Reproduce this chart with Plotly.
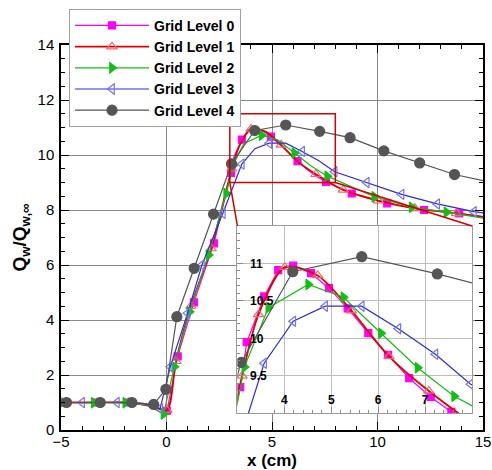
import math
import plotly.graph_objects as go

# ---- data: wall heat flux ratio along the surface for five grid levels ----
x_lvl0 = [-4.95, -3.29, -1.8, -0.69, 0.02, 0.53, 1.3, 2.25, 3.06, 3.2, 3.57, 3.87, 4.19, 4.57,
          4.95, 5.35, 5.79, 6.21, 6.66, 7.12, 7.56, 8.78, 10.46, 12.21, 13.87, 15.5]
y_lvl0 = [1.0, 1.0, 1.0, 0.85, 0.7, 2.68, 4.64, 6.79, 9.35, 9.95, 10.56, 10.91, 10.97, 10.87,
          10.67, 10.4, 10.07, 9.78, 9.47, 9.22, 9.02, 8.6, 8.24, 8.0, 7.88, 7.71]

x_lvl1 = [-4.95, -3.29, -1.8, -0.69, 0.02, 0.45, 1.15, 2.12, 3.1, 3.45, 4.01, 4.71, 5.43,
          6.23, 7.08, 8.38, 10.04, 11.77, 13.74, 15.5]
y_lvl1 = [1.0, 1.0, 1.0, 0.87, 0.72, 2.5, 4.5, 6.6, 9.5, 10.32, 10.95, 10.84, 10.37,
          9.76, 9.3, 8.73, 8.34, 8.06, 7.88, 7.7]

x_lvl2 = [-4.95, -3.45, -1.95, -0.93, -0.14, 0.37, 1.09, 1.99, 2.83, 3.15, 3.66, 4.51, 5.26,
          6.06, 6.84, 7.62, 8.3, 9.85, 11.62, 13.27, 15.5]
y_lvl2 = [1.0, 0.99, 0.99, 0.91, 0.58, 2.3, 4.3, 6.36, 8.6, 9.62, 10.41, 10.72, 10.55,
          10.07, 9.61, 9.23, 9.0, 8.48, 8.1, 7.92, 7.64]

x_lvl3 = [-4.0, -2.35, -1.09, -0.3, 0.18, 1.0, 1.68, 2.67, 3.57, 4.19, 4.87, 5.65, 6.43,
          7.22, 7.97, 9.49, 11.14, 12.83, 14.57, 15.5]
y_lvl3 = [1.0, 1.0, 0.97, 0.78, 2.3, 4.25, 6.0, 7.88, 9.67, 10.23, 10.43, 10.43, 10.13,
          9.79, 9.39, 9.0, 8.57, 8.22, 7.94, 7.84]

x_lvl4 = [-4.74, -3.14, -1.64, -0.61, -0.03, 0.49, 1.31, 2.23, 3.08, 4.18, 5.65, 7.26, 8.70,
          10.3, 12.0, 13.65, 15.3]
y_lvl4 = [1.0, 1.0, 1.0, 0.93, 1.48, 4.12, 5.88, 7.85, 9.68, 10.89, 11.09, 10.86, 10.63,
          10.15, 9.71, 9.29, 9.02]

names = ["Grid Level 0", "Grid Level 1", "Grid Level 2", "Grid Level 3", "Grid Level 4"]
xs_all = [x_lvl0, x_lvl1, x_lvl2, x_lvl3, x_lvl4]
ys_all = [y_lvl0, y_lvl1, y_lvl2, y_lvl3, y_lvl4]

# axis ranges of the main view and of the zoomed inset
main_xrange = [-5, 15]
main_yrange = [0, 14]
zoom_xrange = [3, 8]
zoom_yrange = [9, 11.5]
zoom_xticks = [4, 5, 6, 7]
zoom_yticks = [9.5, 10, 10.5, 11]

# ---- styling ----
FONT = "Liberation Sans, Arial, sans-serif"
W, H = 492, 470
M = dict(l=61, r=9, t=45, b=40)
PLOT_W = W - M["l"] - M["r"]
PLOT_H = H - M["t"] - M["b"]
INSET_X = [0.418, 0.974]
INSET_Y = [0.043, 0.530]

styles = [
    dict(line="#FF00FF", width=1.2, symbol="square", size=7, mcolor="#FF00FF", mline="#FF00FF", shape="linear", gap=28),
    dict(line="#E00000", width=1.8, symbol="triangle-up-open", size=9, mcolor="#F06A6A", mline="#F06A6A", shape="spline", gap=28),
    dict(line="#10C010", width=1.2, symbol="triangle-right", size=9, mcolor="#10C010", mline="#10C010", shape="linear", gap=28),
    dict(line="#2B2BE6", width=1.2, symbol="triangle-left-open", size=9, mcolor="#7474F2", mline="#7474F2", shape="linear", gap=28),
    dict(line="#555555", width=1.2, symbol="circle", size=10, mcolor="#555555", mline="#555555", shape="linear", gap=0),
]

px_x = PLOT_W / (main_xrange[1] - main_xrange[0])
px_y = PLOT_H / (main_yrange[1] - main_yrange[0])


def symbol_indices(xs, ys, gap):
    """Keep a symbol only once it is `gap` pixels away from the last one drawn."""
    keep = [0]
    lx, ly = xs[0], ys[0]
    for i in range(1, len(xs)):
        d = math.hypot((xs[i] - lx) * px_x, (ys[i] - ly) * px_y)
        if d >= gap:
            keep.append(i)
            lx, ly = xs[i], ys[i]
    return keep


fig = go.Figure()

# main view
for name, xs, ys, st in zip(names, xs_all, ys_all, styles):
    fig.add_trace(go.Scatter(
        x=xs, y=ys, name=name, mode="lines+markers",
        line=dict(color=st["line"], width=st["width"], shape=st["shape"], smoothing=0.8),
        marker=dict(symbol=st["symbol"], size=st["size"], color=st["mcolor"],
                    line=dict(color=st["mline"], width=1.2)),
        selectedpoints=symbol_indices(xs, ys, st["gap"]),
        selected=dict(marker=dict(opacity=1)),
        unselected=dict(marker=dict(opacity=0)),
        xaxis="x", yaxis="y", hoverinfo="skip",
    ))

# zoomed inset
for name, xs, ys, st in zip(names, xs_all, ys_all, styles):
    fig.add_trace(go.Scatter(
        x=xs, y=ys, name=name, mode="lines+markers", showlegend=False,
        line=dict(color=st["line"], width=st["width"], shape=st["shape"], smoothing=0.8),
        marker=dict(symbol=st["symbol"], size=st["size"], color=st["mcolor"],
                    line=dict(color=st["mline"], width=1.2)),
        xaxis="x2", yaxis="y2", hoverinfo="skip",
    ))


def to_paper_x(v):
    return (v - main_xrange[0]) / (main_xrange[1] - main_xrange[0])


def to_paper_y(v):
    return (v - main_yrange[0]) / (main_yrange[1] - main_yrange[0])


shapes = [
    # opaque backing for the inset
    dict(type="rect", xref="x2", yref="y2", x0=zoom_xrange[0], x1=zoom_xrange[1],
         y0=zoom_yrange[0], y1=zoom_yrange[1], fillcolor="white", line=dict(width=0), layer="below"),
    # zoom window on the main view
    dict(type="rect", xref="x", yref="y", x0=zoom_xrange[0], x1=zoom_xrange[1],
         y0=zoom_yrange[0], y1=zoom_yrange[1], line=dict(color="#D40000", width=1.5), layer="above"),
    # leader lines from the zoom window to the inset
    dict(type="line", xref="paper", yref="paper",
         x0=to_paper_x(zoom_xrange[0]), y0=to_paper_y(zoom_yrange[0]),
         x1=INSET_X[0], y1=INSET_Y[1], line=dict(color="#D40000", width=1.5), layer="above"),
    dict(type="line", xref="paper", yref="paper",
         x0=to_paper_x(zoom_xrange[1]), y0=to_paper_y(zoom_yrange[0]),
         x1=INSET_X[1], y1=INSET_Y[1], line=dict(color="#D40000", width=1.5), layer="above"),
]

main_axis = dict(
    showline=True, linecolor="black", linewidth=1.5, mirror="allticks",
    ticks="inside", ticklen=8, tickwidth=1.2, tickcolor="black",
    showgrid=True, gridcolor="#888888", gridwidth=1, zeroline=False,
    tickfont=dict(family=FONT, size=15, color="black"), automargin=False,
)
inset_axis = dict(
    showline=True, linecolor="#9A9A9A", linewidth=1, mirror=True,
    ticks="inside", ticklen=6, tickwidth=1, tickcolor="#8A8A8A",
    ticklabelposition="inside", tickmode="array",
    showgrid=True, gridcolor="#BDBDBD", gridwidth=1, zeroline=False,
    tickfont=dict(family=FONT, size=12, color="black", weight="bold"), automargin=False,
)

fig.update_layout(
    width=W, height=H, margin=M,
    paper_bgcolor="white", plot_bgcolor="white",
    font=dict(family=FONT, color="black"),
    shapes=shapes,
    xaxis=dict(main_axis, range=main_xrange, dtick=5, tick0=0, ticklabelstandoff=-3,
               minor=dict(dtick=1, ticklen=4, ticks="inside", tickcolor="black", showgrid=False),
               title=dict(text="<b>x (cm)</b>", font=dict(family=FONT, size=17), standoff=11)),
    yaxis=dict(main_axis, range=main_yrange, dtick=2, tick0=0, ticklabelstandoff=2,
               minor=dict(dtick=0.5, ticklen=4, ticks="inside", tickcolor="black", showgrid=False),
               title=dict(text="<b>Q<sub>w</sub>/Q<sub>w,∞</sub></b>", font=dict(family=FONT, size=19), standoff=6)),
    xaxis2=dict(inset_axis, domain=INSET_X, anchor="y2", range=zoom_xrange, tickvals=zoom_xticks,
                minor=dict(tickmode="linear", tick0=0, dtick=0.2, ticklen=3, ticks="inside",
                           tickcolor="#8A8A8A", showgrid=False)),
    yaxis2=dict(inset_axis, domain=INSET_Y, anchor="x2", range=zoom_yrange, tickvals=zoom_yticks,
                ticklabelstandoff=6,
                minor=dict(tickmode="linear", tick0=0, dtick=0.1, ticklen=3, ticks="inside",
                           tickcolor="#8A8A8A", showgrid=False)),
    legend=dict(x=0.019, y=1.094, xanchor="left", yanchor="top",
                bgcolor="white", bordercolor="#A0A0A0", borderwidth=1,
                font=dict(family=FONT, size=14, color="black", weight="bold"),
                itemwidth=74, tracegroupgap=0),
    showlegend=True,
)

fig.write_html("out.html")
